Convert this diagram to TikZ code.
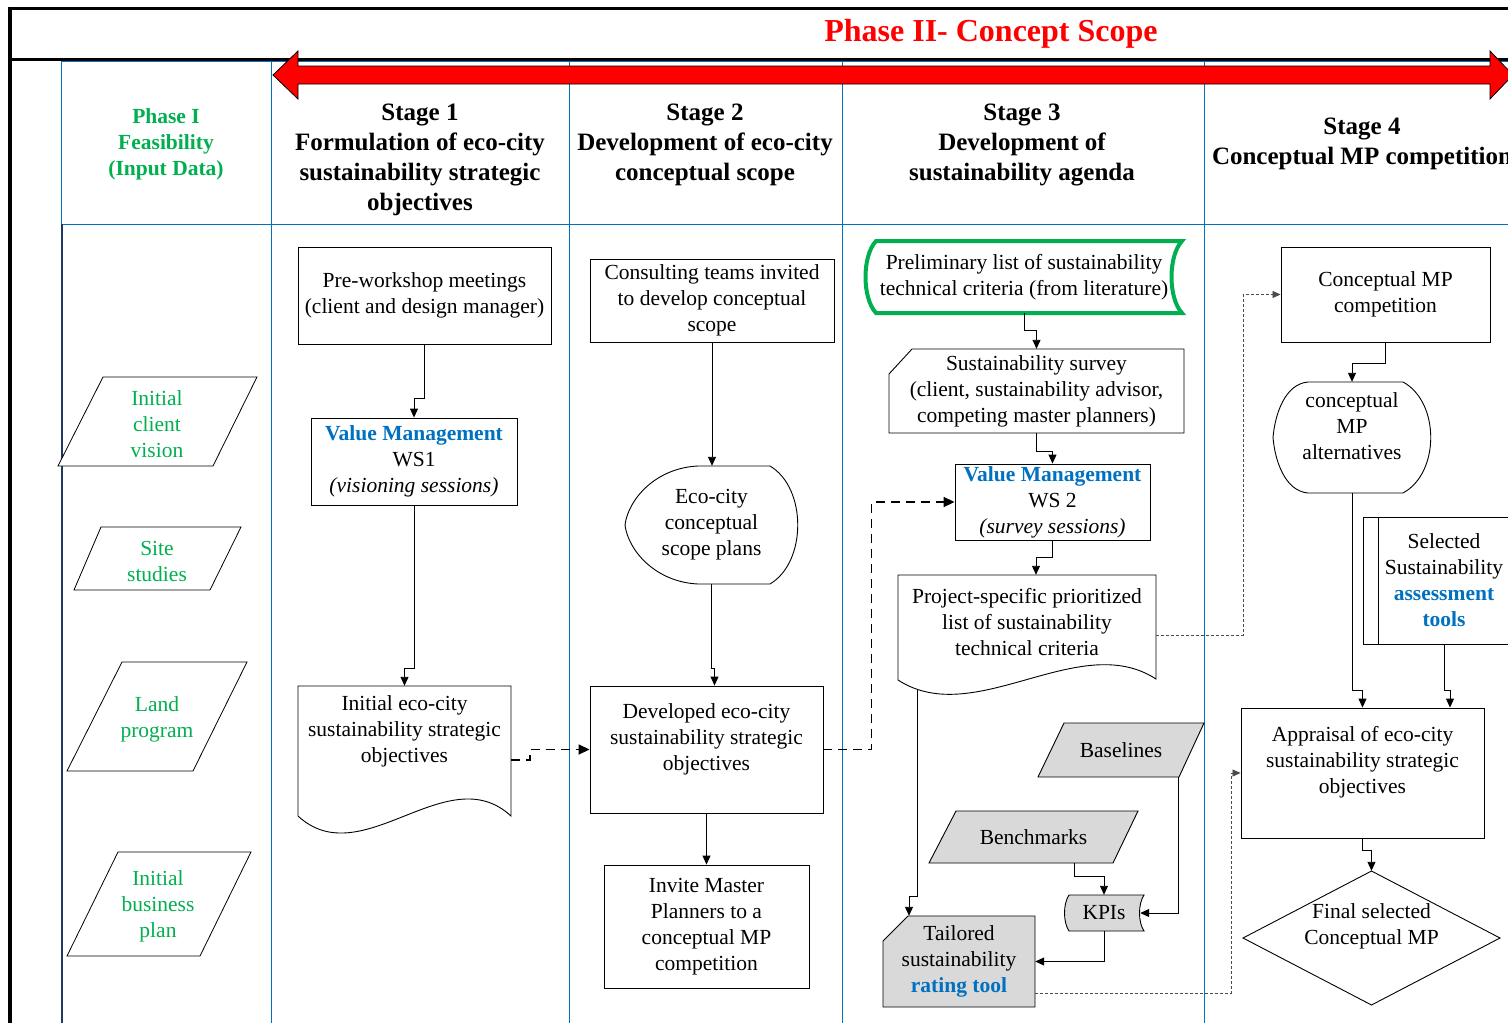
\documentclass[tikz,border=0pt]{standalone}
\usepackage{fontspec}
\setmainfont{Liberation Serif}
\usetikzlibrary{arrows.meta,calc}
\definecolor{vmblue}{RGB}{0,112,192}
\definecolor{phgreen}{RGB}{0,176,80}
\definecolor{gridblue}{RGB}{0,112,192}
\definecolor{shade}{RGB}{217,217,217}
\definecolor{navyline}{RGB}{31,56,100}
\definecolor{arrowred}{RGB}{255,0,0}
\begin{document}
\begin{tikzpicture}[x=1pt,y=-1pt,
  bodytext/.style={font=\fontsize{21.5}{26}\selectfont, align=center, inner sep=0pt},
  hdr/.style={font=\fontsize{25}{30}\selectfont\bfseries, align=center, inner sep=0pt},
  boxnode/.style={bodytext, draw=black, line width=0.9pt, fill=white},
  areanode/.style={bodytext, draw=none},
  shapeline/.style={draw=black, line width=0.9pt, fill=white},
  grayshape/.style={draw=black, line width=0.9pt, fill=shade},
  inputshape/.style={draw=black, line width=0.8pt, fill=white},
  greentext/.style={bodytext, text=phgreen},
  conn/.style={draw=black, line width=0.9pt, -{Triangle[length=9pt,width=8pt]}},
  dashconn/.style={draw=black, line width=1.7pt, dash pattern=on 9pt off 6pt, -{Triangle[length=11pt,width=10pt]}},
  dotconn/.style={draw=black!70, line width=0.8pt, dash pattern=on 3pt off 2pt, -{Triangle[length=8pt,width=7pt]}},
  gridline/.style={draw=gridblue, line width=0.9pt},
]
\useasboundingbox (0,0) rectangle (1508,1023);
\clip (0,0) rectangle (1508,1023);
\fill[white] (0,0) rectangle (1508,1023);

% ---- table grid ----
\draw[gridline] (61,61.5) -- (1508,61.5);
\draw[gridline] (61,224) -- (1508,224);
\foreach \gx in {61,271,569,842,1204} \draw[gridline] (\gx,61) -- (\gx,1023);
\draw[navyline, line width=2.8pt] (62,224) -- (62,1023);
\draw[black, line width=3pt] (8,8) -- (1508,8);
\draw[black, line width=3.5pt] (8,59.5) -- (1508,59.5);
\draw[black, line width=4pt] (9.5,6.5) -- (9.5,1023);

% ---- phase banner ----
\node[font=\fontsize{32}{36}\selectfont\bfseries, text=arrowred, inner sep=0pt] (title) at (991,34) {Phase II- Concept Scope};
\draw[fill=arrowred, draw=black, line width=0.8pt]
  (273,75) -- (298,51) -- (298,66) -- (1490,66) -- (1490,51) -- (1513,75)
  -- (1490,99) -- (1490,84) -- (298,84) -- (298,99) -- cycle;

% ---- column headers ----
\node[font=\fontsize{21.5}{26}\selectfont\bfseries, align=center, inner sep=0pt, text=phgreen] (ph1) at (166,144) {Phase I\\Feasibility\\(Input Data)};
\node[hdr] (st1) at (420,159.5) {Stage 1\\Formulation of eco-city\\sustainability strategic\\objectives};
\node[hdr] (st2) at (705,144.5) {Stage 2\\Development of eco-city\\conceptual scope};
\node[hdr] (st3) at (1022,144.5) {Stage 3\\Development of\\sustainability agenda};
\node[hdr] (st4) at (1362,144) {Stage 4\\Conceptual MP competition};

% ---- Phase I inputs ----
\draw[inputshape] (103,377) -- (257,377) -- (213,466) -- (58,466) -- cycle;
\node[greentext] (in1) at (157,424) {Initial\\client\\vision};
\draw[inputshape] (101,527) -- (241,527) -- (210,590) -- (74,590) -- cycle;
\node[greentext] (in2) at (157,561) {Site\\studies};
\draw[inputshape] (122,662) -- (247,662) -- (193,771) -- (67,771) -- cycle;
\node[greentext] (in3) at (157,719) {Land\\program};
\draw[inputshape] (118,852) -- (251,852) -- (200,956) -- (67,956) -- cycle;
\node[greentext] (in4) at (158,906) {Initial\\business\\plan};

% ---- Stage 1 ----
\node[boxnode, minimum width=253pt, minimum height=97pt] (pre) at (424.5,295.5) {Pre-workshop meetings\\(client and design manager)};
\node[boxnode, minimum width=206pt, minimum height=87pt] (vm1) at (414,461.5) {{\color{vmblue}\bfseries Value Management}\\WS1\\\textit{(visioning sessions)}};
\draw[shapeline] (298,816) -- (298,686) -- (511,686) -- (511,816)
  .. controls (447,757) and (362,875) .. (298,816) -- cycle;
\node[areanode, minimum width=213pt, minimum height=130pt] (initdoc) at (404.5,751) {};
\node[bodytext] (initdoc-t) at (404.5,731) {Initial eco-city\\sustainability strategic\\objectives};

% ---- Stage 2 ----
\node[boxnode, minimum width=244pt, minimum height=83pt] (consult) at (712,300.5) {Consulting teams invited\\to develop conceptual\\scope};
\draw[shapeline] (698,466) -- (770,466) .. controls (807,488) and (807,562) .. (770,584)
  -- (698,584) .. controls (655,582) and (628,550) .. (625,525)
  .. controls (628,500) and (655,468) .. (698,466) -- cycle;
\node[areanode, minimum width=173pt, minimum height=118pt] (eco) at (711.5,525) {Eco-city\\conceptual\\scope plans};
\node[boxnode, minimum width=233pt, minimum height=127pt] (dev) at (706.5,749.5) {};
\node[bodytext] (dev-t) at (706.5,739) {Developed eco-city\\sustainability strategic\\objectives};
\node[boxnode, minimum width=205pt, minimum height=123pt] (invite) at (706.5,926.5) {Invite Master\\Planners to a\\conceptual MP\\competition};

% ---- Stage 3 ----
\draw[draw=phgreen, line width=4pt, fill=white] (876,241) -- (1182,241)
  .. controls (1168,256) and (1168,298) .. (1182,313) -- (876,313)
  .. controls (862,298) and (862,256) .. (876,241) -- cycle;
\node[areanode, minimum width=316pt, minimum height=72pt] (prelim) at (1024,277) {Preliminary list of sustainability\\technical criteria (from literature)};
\draw[shapeline] (912,349) -- (1184,349) -- (1184,433) -- (889,433) -- (889,374) -- cycle;
\node[areanode, minimum width=295pt, minimum height=84pt] (survey) at (1036.5,391) {Sustainability survey\\(client, sustainability advisor,\\competing master planners)};
\node[boxnode, minimum width=195pt, minimum height=76pt] (vm2) at (1052.5,502) {{\color{vmblue}\bfseries Value Management}\\WS 2\\\textit{(survey sessions)}};
\draw[shapeline] (898,680) -- (898,575) -- (1156,575) -- (1156,679)
  .. controls (1079,629) and (975,730) .. (898,680) -- cycle;
\node[areanode, minimum width=258pt, minimum height=105pt] (proj) at (1027,627.5) {};
\node[bodytext] (proj-t) at (1027,622) {Project-specific prioritized\\list of sustainability\\technical criteria};
\coordinate (projfoot) at (917,689);
\draw[grayshape] (1064,723) -- (1204,723) -- (1179,777) -- (1038,777) -- cycle;
\node[areanode, minimum width=166pt, minimum height=54pt] (base) at (1121,750) {Baselines};
\draw[grayshape] (956,811) -- (1138,811) -- (1113,863) -- (929,863) -- cycle;
\node[areanode, minimum width=209pt, minimum height=52pt] (bench) at (1033.5,837) {Benchmarks};
\draw[grayshape] (1069,895) -- (1144,895) .. controls (1138,904) and (1138,922) .. (1144,931)
  -- (1069,931) .. controls (1063,922) and (1063,904) .. (1069,895) -- cycle;
\node[areanode, minimum width=80pt, minimum height=36pt] (kpi) at (1104,913) {KPIs};
\draw[grayshape] (908,916) -- (1035,916) -- (1035,1007) -- (883,1007) -- (883,941) -- cycle;
\node[areanode, minimum width=152pt, minimum height=91pt] (tailored) at (959,961.5) {Tailored\\sustainability\\{\color{vmblue}\bfseries rating tool}};

% ---- Stage 4 ----
\node[boxnode, minimum width=209pt, minimum height=95pt] (cmp) at (1385.5,294.5) {Conceptual MP\\competition};
\draw[shapeline] (1308,382) -- (1403,382) .. controls (1440,402) and (1440,473) .. (1403,493)
  -- (1308,493) .. controls (1285,491) and (1275,461) .. (1273,437.5)
  .. controls (1275,414) and (1285,384) .. (1308,382) -- cycle;
\node[areanode, minimum width=158pt, minimum height=111pt] (alt) at (1352,437.5) {};
\node[bodytext] (alt-t) at (1352,426) {conceptual\\MP\\alternatives};
\node[boxnode, minimum width=162pt, minimum height=127pt] (sel) at (1444,580.5) {Selected\\Sustainability\\{\color{vmblue}\bfseries assessment}\\{\color{vmblue}\bfseries tools}};
\draw[black, line width=0.9pt] (1378,517) -- (1378,644);
\node[boxnode, minimum width=243pt, minimum height=130pt] (appr) at (1362.5,773) {};
\node[bodytext] (appr-t) at (1362.5,762) {Appraisal of eco-city\\sustainability strategic\\objectives};
\draw[shapeline] (1371.5,871) -- (1500,938) -- (1371.5,1005) -- (1243,938) -- cycle;
\node[areanode, minimum width=257pt, minimum height=134pt] (final) at (1371.5,938) {};
\node[bodytext] (final-t) at (1371.5,926) {Final selected\\Conceptual MP};

% ---- connectors ----
\draw[conn] (pre.south) -- ++(0,54) -| (vm1.north);
\draw[conn] (vm1.south) -- ++(0,163) -| (initdoc.north);
\draw[dashconn] ([yshift=-9pt]initdoc.east) -- ++(19,0) |- (dev.west);
\draw[conn] (consult.south) -- (consult.south |- eco.north);
\draw[conn] (eco.south) -- ++(0,84) -| ([xshift=8pt]dev.north);
\draw[conn] (dev.south) -- (invite.north);
\draw[dashconn] (dev.east) -- ++(48,0) |- (vm2.west);
\draw[conn] (prelim.south) -- ++(0,17) -| (survey.north);
\draw[conn] (survey.south) -- ++(0,18) -| (vm2.north);
\draw[conn] (vm2.south) -- ++(0,17) -| ([xshift=9pt]proj.north);
\draw[dotconn] ([yshift=-7.5pt]proj.east) -- ++(87,0) |- (cmp.west);
\draw[conn] (projfoot) -- ++(0,207) -| ([xshift=-50pt]tailored.north);
\draw[conn] ([xshift=40.5pt]bench.south) -- ++(0,13) -| (kpi.north);
\draw[conn] ([xshift=57pt]base.south) |- ([xshift=-4pt]kpi.east);
\draw[conn] (kpi.south) |- (tailored.east);
\draw[dotconn] ([yshift=-31.5pt]tailored.east) -- ++(196,0) |- (appr.west);
\draw[conn] (cmp.south) -- ++(0,21) -| (alt.north);
\draw[conn] (alt.south) -- ++(0,197) -| (appr.north);
\draw[conn] (sel.south) -- ++(0,46) -| ([xshift=87.5pt]appr.north);
\draw[conn] (appr.south) -- ++(0,12) -| (final.north);
\end{tikzpicture}
\end{document}
